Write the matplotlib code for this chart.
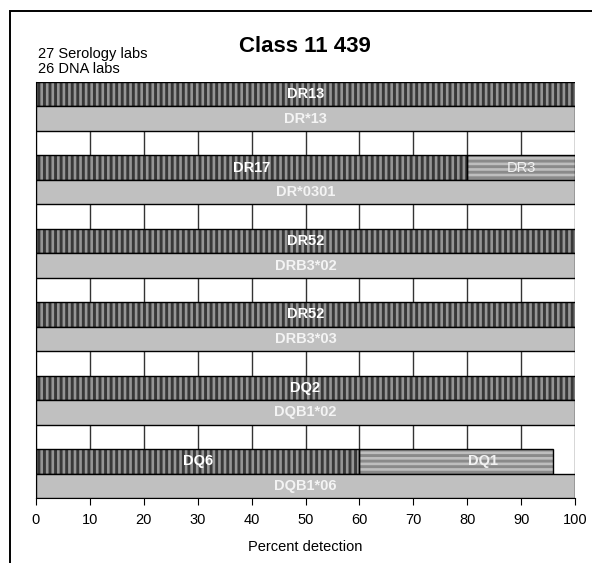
import matplotlib
matplotlib.use('Agg')
import matplotlib.pyplot as plt
from matplotlib.patches import Rectangle

# Serologia (barra listrada) e DNA (barra cinza) para cada especificidade
sorologia = ['DR13', 'DR17', 'DR52', 'DR52', 'DQ2', 'DQ6']
valores_sorologia = [100, 80, 100, 100, 100, 60]
sorologia_extra = ['', 'DR3', '', '', '', 'DQ1']
valores_extra = [0, 20, 0, 0, 0, 36]
dna = ['DR*13', 'DR*0301', 'DRB3*02', 'DRB3*03', 'DQB1*02', 'DQB1*06']
valores_dna = [100, 100, 100, 100, 100, 100]
ticks = [0, 10, 20, 30, 40, 50, 60, 70, 80, 90, 100]

plt.rcParams['font.family'] = ['Liberation Sans', 'DejaVu Sans']
plt.rcParams['hatch.linewidth'] = 1.9

fig = plt.figure(figsize=(5.92, 5.63), dpi=100)
ax = fig.add_axes([36 / 592, 1 - 498 / 563, 539 / 592, 416 / 563])


def barra(y, largura, inicio, base, listra, hatch):
    ax.barh(y, largura, left=inicio, height=1, color=base, edgecolor=listra,
            hatch=hatch, linewidth=0, zorder=2)
    ax.barh(y, largura, left=inicio, height=1, fill=False,
            edgecolor='black', linewidth=1, zorder=3)


ajuste = {'DQ1': 5}

for i in range(len(sorologia)):
    y1 = 3 * i + 0.5
    y2 = 3 * i + 1.5

    barra(y1, valores_sorologia[i], 0, '#383838', '#959595', '|||')
    ax.text(valores_sorologia[i] / 2, y1, sorologia[i], color='white',
            fontsize=10.5, fontweight='bold', ha='center', va='center', zorder=4)

    if valores_extra[i] > 0:
        inicio = valores_sorologia[i]
        barra(y1, valores_extra[i], inicio, '#8a8a8a', '#bebebe', '---')
        peso = 'bold' if sorologia_extra[i] == 'DQ1' else 'normal'
        ax.text(inicio + valores_extra[i] / 2 + ajuste.get(sorologia_extra[i], 0), y1,
                sorologia_extra[i], color='#f2f2f2', fontsize=10.5, fontweight=peso,
                ha='center', va='center', zorder=4)

    ax.barh(y2, valores_dna[i], height=1, color='#c0c0c0',
            edgecolor='black', linewidth=1, zorder=3)
    ax.text(valores_dna[i] / 2, y2, dna[i], color='#f4f4f4', fontsize=10.5,
            fontweight='bold', ha='center', va='center', zorder=4)

ax.set_xlim(0, 100)
ax.set_ylim(17, 0)
ax.set_xticks(ticks)
ax.set_yticks([])
ax.set_axisbelow(True)
ax.grid(axis='x', color='#333333', linewidth=1)
ax.spines['top'].set_visible(False)
ax.spines['right'].set_visible(False)
ax.tick_params(axis='x', direction='out', length=5, labelsize=10.5, pad=6)
ax.set_xlabel('Percent detection', fontsize=10.5, labelpad=9)

fig.text(305 / 592, 1 - 46 / 563, 'Class 11 439', fontsize=16,
         fontweight='bold', ha='center', va='center')
fig.text(38 / 592, 1 - 58 / 563, '27 Serology labs', fontsize=10.5, va='baseline')
fig.text(38 / 592, 1 - 73 / 563, '26 DNA labs', fontsize=10.5, va='baseline')

# moldura
fig.add_artist(Rectangle((10 / 592, -0.1), 1.2, 1 - 11 / 563 + 0.1,
                         transform=fig.transFigure, fill=False,
                         edgecolor='black', linewidth=1.4))

fig.savefig('out.png', dpi=100)
